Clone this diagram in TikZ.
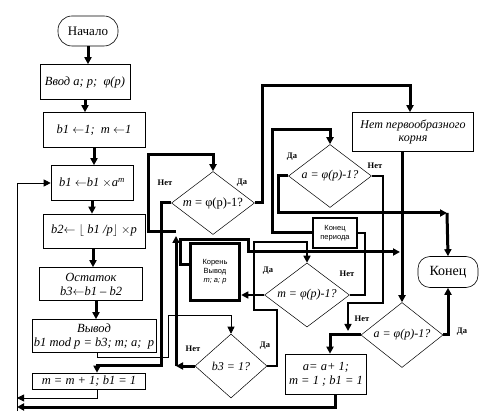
\documentclass[tikz,border=0pt]{standalone}
\usepackage{fontspec}
\setmainfont{Liberation Serif}
\setsansfont{Liberation Sans}
\usetikzlibrary{arrows.meta,shapes.geometric}

\begin{document}
\begin{tikzpicture}[
    x=1pt, y=-1pt,
    box/.style={draw,line width=0.6pt,inner sep=1pt,align=center,
        font=\itshape\fontsize{12.5}{14}\selectfont},
    term/.style={box,rounded corners=14pt,font=\fontsize{13}{15}\selectfont},
    dec/.style={diamond,draw,line width=0.5pt,aspect=1.25,inner sep=0pt,
        font=\itshape\fontsize{12}{14}\selectfont},
    small/.style={box,font=\sffamily\fontsize{7.5}{9}\selectfont},
    lbl/.style={inner sep=0pt,font=\bfseries\fontsize{8.5}{10}\selectfont},
    thinline/.style={line width=0.8pt},
    medline/.style={line width=1.6pt},
    thickline/.style={line width=3pt},
    arr/.style={-{Triangle[length=7pt,width=7pt]}}
]
    \useasboundingbox (0,0) rectangle (479,419);

    % main column
    \node[term,minimum width=60pt,minimum height=30pt] (start) at (88,31) {Начало};
    \node[box,minimum width=90pt,minimum height=35pt] (input) at (85,82) {Ввод a; p;\ \ φ(p)};
    \node[box,minimum width=102pt,minimum height=35pt] (init) at (94,130) {b1 $\leftarrow$1;\ \ m $\leftarrow$1};
    \node[box,minimum width=82pt,minimum height=35pt] (mult) at (92,183) {b1 $\leftarrow$b1 $\times$a\textsuperscript{m}};
    \node[box,minimum width=102pt,minimum height=34pt] (floor) at (94,231) {b2$\leftarrow\lfloor$ b1 /p$\rfloor$ $\times$p};
    \node[box,minimum width=103pt,minimum height=33pt] (rem) at (91,284) {Остаток\\b3$\leftarrow$b1 -- b2};
    \node[box,minimum width=124pt,minimum height=33pt] (outp) at (94,336) {Вывод\\b1 mod p = b3; m; a;\ \ p};
    \node[box,minimum width=113pt,minimum height=16pt,inner sep=0pt] (incr) at (89,381) {m = m + 1; b1 = 1};

    % decisions
    \node[dec,minimum width=83pt,minimum height=63pt,font=\fontsize{12.5}{14}\selectfont] (d1) at (213,203) {\textit{m} = φ(p)-1?};
    \node[dec,minimum width=83pt,minimum height=63pt] (d2) at (330,176) {a = φ(p)-1?};
    \node[dec,minimum width=85pt,minimum height=64pt] (d4) at (307,295) {m = φ(p)-1?};
    \node[dec,minimum width=82pt,minimum height=65pt] (d3) at (402,335) {a = φ(p)-1?};
    \node[dec,minimum width=72pt,minimum height=64pt] (d5) at (231,366) {b3 = 1?};

    % right part
    \node[box,minimum width=121pt,minimum height=39pt,font=\itshape\fontsize{12}{13}\selectfont] (noroot) at (413,132) {Нет первообразного\\корня};
    \node[term,minimum width=60pt,minimum height=31pt,rounded corners=12pt,font=\fontsize{14}{16}\selectfont] (stop) at (448,272) {Конец};
    \node[small,line width=2pt,minimum width=44pt,minimum height=30pt] (period) at (335,233) {Конец\\периода};
    \node[small,line width=3.5pt,minimum width=49pt,minimum height=57pt] (roots) at (215,272) {Корень\\Вывод\\\textit{m; a; p}};
    \node[box,minimum width=81pt,minimum height=40pt] (next) at (326,374) {a= a+ 1;\\m = 1 ; b1 = 1};

    % branch labels
    \node[lbl] (n1) at (165,183) {Нет};
    \node[lbl] (y1) at (242,183) {Да};
    \node[lbl] (y2) at (292,157) {Да};
    \node[lbl] (n2) at (375,166) {Нет};
    \node[lbl] (y4) at (268,271) {Да};
    \node[lbl] (n4) at (347,274) {Нет};
    \node[lbl] (n3) at (362,319) {Нет};
    \node[lbl] (y3) at (462,332) {Да};
    \node[lbl] (n5) at (193,349) {Нет};
    \node[lbl] (y5) at (265,346) {Да};

    \coordinate (loopA) at (17,398);
    \coordinate (loopB) at (17,407);
    \coordinate (loopC) at (17,411);
    \coordinate (backN) at (176,366);
    \coordinate (d5in) at (231,315);
    \coordinate (topbend) at (262,86);
    \coordinate (rootout) at (400,252);
    \coordinate (yesbend) at (447,213);
    \coordinate (nojoin) at (348,331);

    % main column arrows
    \draw[thickline,arr] (start.south) -- (start.south |- input.north);
    \draw[thickline,arr] (input.south) -- (input.south |- init.north);
    \draw[thickline,arr] (init.south) -- (init.south |- mult.north);
    \draw[thickline,arr] (mult.south) -- (mult.south |- floor.north);
    \draw[thickline,arr] ([xshift=-1pt]floor.south) -- ([xshift=-1pt]floor.south |- rem.north);
    \draw[thickline,arr] ([xshift=5pt]rem.south) -- ([xshift=5pt]rem.south |- outp.north);

    % loops back
    \draw[thinline,arr] ([xshift=8pt]incr.south) |- (loopA);
    \draw[thickline,arr] ([xshift=9pt]next.south) |- (loopB);
    \draw[thinline,arr] (loopC) |- (mult.west);

    % m = phi(p)-1 ?
    \draw[thickline,arr] (d5.west) -- (backN);
    \draw[thickline,arr] (backN) -- (176,236);
    \draw[thickline,arr] (176,232) -- (148,232) |- (213,155) -- (d1.north);
    \draw[thickline,arr] (d1.west) -| (161,365) -| ([xshift=8pt]incr.north);
    \draw[thickline,arr] (d1.east) -| (topbend) -| ([xshift=-3pt]noroot.north);
    \draw[thinline,arr] ([xshift=3pt]outp.south) |- (168,357) |- (d5in) -- (d5.north);

    % roots and periods
    \draw[thickline,arr] ([yshift=7pt]roots.west) -| (180,240) -| (248,252) -- (rootout);
    \draw[medline,arr] (d4.west) -- (d4.west -| roots.east);
    \draw[medline,arr] (d5.east) -| (277,310) -| (254,242) -| (d4.north);
    \draw[medline] (d4.east) -| (365,233) -- (period.east);
    \draw[thickline,arr] (period.west) -| (272,130) -| (d2.north);

    % a = phi(p)-1 ?
    \draw[thickline,arr] (d2.west) -| (278,213) -- (yesbend);
    \draw[thickline,arr] (yesbend) -- (stop.north);
    \draw[medline,arr] (d2.east) -| (383,303) -| (nojoin);
    \draw[thickline,arr] ([xshift=-11pt]noroot.south) -- (d3.north);
    \draw[thickline,arr] (d3.west) -| ([xshift=4pt]next.north);
    \draw[thickline,arr] (d3.east) -| (stop.south);
\end{tikzpicture}
\end{document}
